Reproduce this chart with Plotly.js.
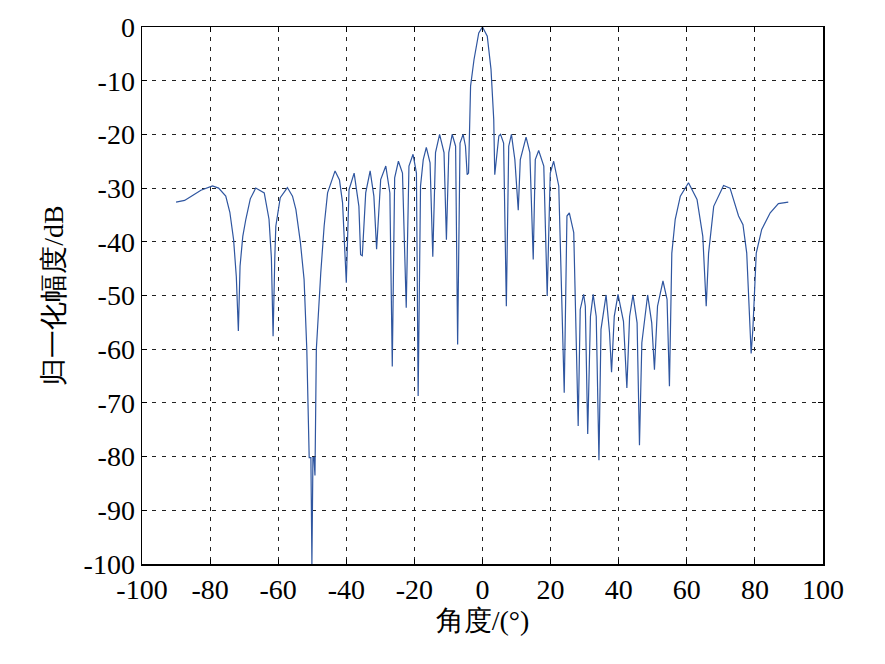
<!DOCTYPE html>
<html>
<head>
<meta charset="utf-8">
<script src="https://cdn.plot.ly/plotly-3.0.1.min.js"></script>
<style>html,body{margin:0;padding:0;background:#fff;}#chart{width:885px;height:664px;}</style>
</head>
<body>
<div id="chart"></div>
<script>
// Angle (degrees)
const angle = [
-90.0,-87.5,-85.5,-82.7,-79.3,-77.5,-75.4,-74.2,-73.1,-72.3,-71.7,-71.2,-70.4,-69.5,-68.2,-66.6,-64.1,-62.7,-62.0,-61.5,
-61.0,-60.7,-59.4,-57.3,-55.8,-54.8,-53.5,-52.4,-51.6,-50.9,-50.4,-50.1,-49.8,-49.5,-49.2,-49.0,-48.8,-47.5,-46.5,-45.5,
-43.3,-42.0,-41.1,-40.0,-39.2,-37.7,-36.3,-35.8,-35.3,-34.3,-33.0,-31.9,-31.1,-29.9,-28.4,-27.2,-26.5,-25.8,-24.7,-23.5,
-22.4,-21.6,-20.4,-19.4,-18.9,-18.2,-17.4,-16.5,-15.4,-14.6,-13.8,-12.6,-11.3,-10.6,-9.9,-8.9,-7.9,-7.3,-6.6,-5.7,
-5.0,-4.5,-4.1,-3.5,-2.5,-1.1,0,1.4,2.5,3.3,3.5,3.6,4.8,5.3,6.2,7.0,7.7,8.5,9.5,10.5,
11.1,12.8,13.9,14.9,15.5,16.5,18.0,19.0,19.9,20.9,22.4,24.0,24.8,25.5,26.8,28.1,28.7,29.7,30.2,30.9,
31.7,32.5,33.4,34.2,34.8,36.3,37.3,37.9,38.7,39.8,41.4,42.4,43.2,44.2,45.4,46.1,46.8,48.5,49.7,50.5,
51.4,53.0,54.2,54.9,55.6,56.6,58.1,60.5,63.0,64.7,65.7,66.4,67.9,70.8,72.7,75.2,76.5,77.6,78.9,79.4,
80.4,82.0,84.5,86.9,89.8
];
// Normalized amplitude (dB)
const amplitude = [
-32.6,-32.3,-31.5,-30.4,-29.6,-30.0,-31.5,-34.5,-39.6,-46.5,-56.6,-44.5,-39.0,-35.8,-32.0,-30.0,-30.9,-35.8,-43.0,-57.6,
-43.0,-37.1,-31.8,-29.9,-31.5,-34.0,-40.0,-47.0,-60.0,-80.2,-80.2,-100,-80.2,-80.2,-83.5,-72.0,-60.0,-45.8,-37.0,-30.9,
-26.8,-28.5,-32.7,-47.6,-30.3,-27.2,-33.4,-42.4,-42.6,-30.9,-26.8,-31.5,-41.4,-28.4,-25.9,-30.9,-63.2,-28.1,-25.0,-27.2,
-52.3,-25.9,-23.7,-27.2,-68.7,-29.6,-24.7,-22.4,-25.3,-42.8,-23.4,-20.0,-23.4,-39.6,-23.4,-20.0,-22.2,-59.1,-21.6,-20.0,
-22.2,-27.5,-27.2,-11.0,-6.1,-1.1,0,-1.7,-7.9,-17.2,-27.2,-27.5,-20.3,-20.0,-21.6,-52.0,-22.2,-20.0,-24.7,-34.1,
-24.7,-20.5,-23.4,-43.3,-24.7,-23.0,-25.9,-50.1,-27.2,-25.0,-29.6,-68.1,-35.2,-34.6,-38.3,-74.3,-52.6,-49.8,-52.0,-75.8,
-53.9,-49.8,-53.9,-80.7,-56.3,-49.9,-56.9,-64.3,-53.9,-49.8,-54.8,-67.2,-53.9,-49.9,-55.1,-77.9,-58.8,-49.9,-55.1,-63.8,
-52.0,-47.3,-50.7,-66.9,-42.1,-35.8,-31.5,-29.0,-32.1,-39.0,-52.0,-42.1,-33.4,-29.5,-30.0,-35.2,-36.8,-42.1,-60.8,-56.3,
-42.1,-37.7,-34.6,-32.9,-32.6
];
const xTicks = [-100,-80,-60,-40,-20,0,20,40,60,80,100];
const yTicks = [0,-10,-20,-30,-40,-50,-60,-70,-80,-90,-100];
const xTitle = '角度/(°)';
const yTitle = '归一化幅度/dB';

Plotly.newPlot('chart', [{
  x: angle, y: amplitude, type: 'scatter', mode: 'lines',
  line: {color: '#2f56a0', width: 1.2}
}], {
  width: 885, height: 664,
  margin: {l: 142, r: 62, t: 27, b: 100},
  paper_bgcolor: '#fff', plot_bgcolor: '#fff',
  font: {family: 'Times New Roman', size: 28, color: '#000'},
  showlegend: false,
  xaxis: {
    range: [-100, 100], tickvals: xTicks, ticktext: xTicks.map(function(v){return String(v);}),
    showline: true, linecolor: '#000', linewidth: 1.5, mirror: 'ticks',
    ticks: 'inside', ticklen: 5, tickwidth: 1, tickcolor: '#000',
    showgrid: true, gridcolor: '#222', gridwidth: 1, griddash: '4px,6px',
    zeroline: false,
    tickfont: {family: 'Times New Roman', size: 28, color: '#000'},
    title: {text: xTitle, font: {family: 'Times New Roman', size: 28, color: '#000'}, standoff: 4}
  },
  yaxis: {
    range: [-100, 0], tickvals: yTicks, ticktext: yTicks.map(function(v){return String(v);}),
    showline: true, linecolor: '#000', linewidth: 1.5, mirror: 'ticks',
    ticks: 'inside', ticklen: 5, tickwidth: 1, tickcolor: '#000',
    showgrid: true, gridcolor: '#222', gridwidth: 1, griddash: '4px,6px',
    zeroline: false,
    tickfont: {family: 'Times New Roman', size: 28, color: '#000'},
    title: {text: yTitle, font: {family: 'Times New Roman', size: 28, color: '#000'}, standoff: 12}
  }
}, {displayModeBar: false, staticPlot: true});
</script>
</body>
</html>
